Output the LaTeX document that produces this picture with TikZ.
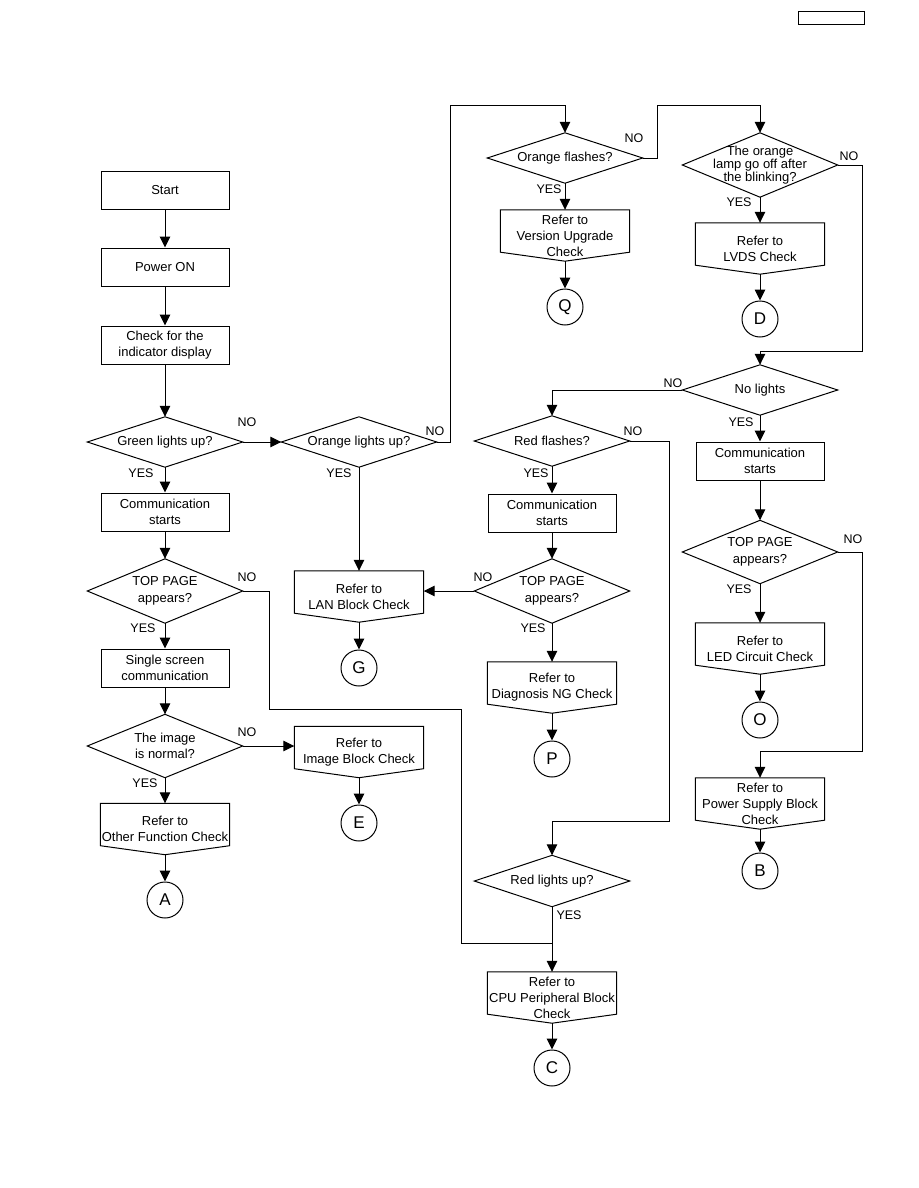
\documentclass[tikz,border=0pt]{standalone}
\usepackage{fontspec}
\setmainfont{Liberation Sans}
\usetikzlibrary{arrows.meta,shapes.geometric}
\tikzset{
  ln/.style={line width=1pt, draw=black},
  arr/.style={ln, -{Triangle[length=11pt,width=10.5pt]}},
  boxb/.style={rectangle, draw, line width=1pt, minimum width=128pt, minimum height=38pt, inner sep=0pt, align=center, font=\fontsize{13}{16}\selectfont},
  diab/.style={rectangle, minimum width=155pt, inner sep=0pt, align=center, font=\fontsize{13}{16}\selectfont},
  docb/.style={rectangle, minimum width=129pt, minimum height=51pt, inner sep=0pt, align=center, font=\fontsize{13}{16}\selectfont},
  circ/.style={circle, draw, line width=1pt, minimum size=36pt, inner sep=0pt, font=\fontsize{17}{17}\selectfont},
  lbl/.style={inner sep=0pt, font=\fontsize{12.5}{14}\selectfont},
}
\newcommand\mkdia[5]{\node[diab,minimum height=#4pt] (#1) at (#2,#3) {#5};
  \draw[ln] (#1.north)--(#1.east)--(#1.south)--(#1.west)--cycle;}
\newcommand\mkdoc[4]{\node[docb] (#1) at (#2,#3) {#4};
  \draw[ln] ([yshift=9pt]#1.south west) -- (#1.north west) -- (#1.north east) -- ([yshift=9pt]#1.south east) -- (#1.south) -- cycle;}
\begin{document}
\begin{tikzpicture}[x=1pt,y=-1pt]
\useasboundingbox (0,0) rectangle (918,1188);
\node[draw, line width=1pt, minimum width=66pt, minimum height=13pt, inner sep=0pt] (pg) at (831,18.5) {};
% left column
\node[boxb] (start) at (165,190) {Start};
\node[boxb] (power) at (165,267) {Power ON};
\node[boxb] (check) at (165,345) {Check for the\\indicator display};
\mkdia{green}{165}{442}{50}{Green lights up?}
\node[boxb] (comm1) at (165,512) {Communication\\starts};
\mkdia{tp1}{165}{591}{64}{TOP PAGE\\[1pt]appears?}
\node[boxb] (single) at (165,668) {Single screen\\communication};
\mkdia{img}{165}{746}{63}{The image\\is normal?}
\mkdoc{other}{165}{829}{Refer to\\Other Function Check}
\node[circ] (cA) at (165,900) {A};
% middle column
\mkdia{ol}{359}{442}{50}{Orange lights up?}
\mkdoc{lan}{359}{596.5}{Refer to\\LAN Block Check}
\node[circ] (cG) at (359,668) {G};
\mkdoc{imb}{359}{752}{Refer to\\Image Block Check}
\node[circ] (cE) at (359,823) {E};
% third column
\mkdia{rf}{552}{441}{50}{Red flashes?}
\node[boxb] (comm2) at (552,513) {Communication\\starts};
\mkdia{tp2}{552}{591}{64}{TOP PAGE\\[1pt]appears?}
\mkdoc{diag}{552}{687.5}{Refer to\\Diagnosis NG Check}
\node[circ] (cP) at (552,759) {P};
\mkdia{rl}{552}{881}{51}{Red lights up?}
\mkdoc{cpu}{552}{997.5}{Refer to\\CPU Peripheral Block\\Check}
\node[circ] (cC) at (552,1068) {C};
% orange flashes column
\mkdia{of}{565}{158}{50}{Orange flashes?}
\mkdoc{ver}{565}{235.5}{Refer to\\Version Upgrade\\Check}
\node[circ] (cQ) at (565,307) {Q};
% right column
\node[diab,minimum height=64pt,font=\fontsize{13}{13}\selectfont] (lamp) at (760,165) {The orange\\lamp go off after\\the blinking?};
\draw[ln] (lamp.north)--(lamp.east)--(lamp.south)--(lamp.west)--cycle;
\mkdoc{lvds}{760}{248.5}{Refer to\\LVDS Check}
\node[circ] (cD) at (760,319) {D};
\mkdia{nl}{760}{390}{50}{No lights}
\node[boxb] (comm3) at (760,461) {Communication\\starts};
\mkdia{tp3}{760}{552}{63}{TOP PAGE\\[1pt]appears?}
\mkdoc{led}{760}{648.5}{Refer to\\LED Circuit Check}
\node[circ] (cO) at (760,720) {O};
\mkdoc{psu}{760}{803.5}{Refer to\\Power Supply Block\\Check}
\node[circ] (cB) at (760,871) {B};
% bend coordinates
\coordinate (k1) at (450,106);
\coordinate (k2) at (657,106);
\coordinate (k3) at (862,351);
\coordinate (k4) at (669,821);
\coordinate (k5) at (862,751);
\coordinate (k6) at (269,709);
\coordinate (k7) at (461,943);
% connectors left
\draw[arr] (start) -- (power);
\draw[arr] (power) -- (check);
\draw[arr] (check) -- (green.north);
\draw[arr] (green.south) -- (comm1);
\draw[arr] (comm1) -- (tp1.north);
\draw[arr] (tp1.south) -- (single);
\draw[arr] (single) -- (img.north);
\draw[arr] (img.south) -- (other.north);
\draw[arr] (other.south) -- (cA);
\draw[arr] (green.east) -- (ol.west);
\draw[arr] (img.east) -- (img.east -| imb.west);
\draw[arr] (imb.south) -- (cE);
\draw[arr] (ol.south) -- (lan.north);
\draw[arr] (lan.south) -- (cG);
\draw[ln] (tp1.east) -| (k6) -| (k7) -- (k7 -| rl.south);
% top
\draw[arr] (ol.east) -| (k1) -| (of.north);
\draw[arr] (of.south) -- (ver.north);
\draw[arr] (ver.south) -- (cQ);
\draw[arr] (of.east) -| (k2) -| (lamp.north);
\draw[arr] (lamp.south) -- (lvds.north);
\draw[arr] (lvds.south) -- (cD);
\draw[arr] (lamp.east) -| (k3) -| (nl.north);
% right
\draw[arr] (nl.south) -- (comm3);
\draw[arr] (comm3) -- (tp3.north);
\draw[arr] (tp3.south) -- (led.north);
\draw[arr] (led.south) -- (cO);
\draw[arr] (tp3.east) -| (k5) -| (psu.north);
\draw[arr] (psu.south) -- (cB);
% third
\draw[arr] (nl.west) -| (rf.north);
\draw[arr] (rf.south) -- (comm2);
\draw[arr] (comm2) -- (tp2.north);
\draw[arr] (tp2.south) -- (diag.north);
\draw[arr] (diag.south) -- (cP);
\draw[arr] (tp2.west) -- (tp2.west -| lan.east);
\draw[arr] (rf.east) -| (k4) -| (rl.north);
\draw[arr] (rl.south) -- (cpu.north);
\draw[arr] (cpu.south) -- (cC);
% labels
\node[lbl] (l1) at (247,422) {NO};
\node[lbl] (l2) at (141,473) {YES};
\node[lbl] (l3) at (435,431) {NO};
\node[lbl] (l4) at (339,473) {YES};
\node[lbl] (l5) at (247,577) {NO};
\node[lbl] (l6) at (143,628) {YES};
\node[lbl] (l7) at (247,732) {NO};
\node[lbl] (l8) at (145,783) {YES};
\node[lbl] (l9) at (634,138) {NO};
\node[lbl] (l10) at (549,189) {YES};
\node[lbl] (l11) at (849,156) {NO};
\node[lbl] (l12) at (739,202) {YES};
\node[lbl] (l13) at (673,383) {NO};
\node[lbl] (l14) at (741,422) {YES};
\node[lbl] (l15) at (633,431) {NO};
\node[lbl] (l16) at (536,473) {YES};
\node[lbl] (l17) at (483,577) {NO};
\node[lbl] (l18) at (533,628) {YES};
\node[lbl] (l19) at (853,539) {NO};
\node[lbl] (l20) at (739,589) {YES};
\node[lbl] (l21) at (569,915) {YES};
\end{tikzpicture}
\end{document}
